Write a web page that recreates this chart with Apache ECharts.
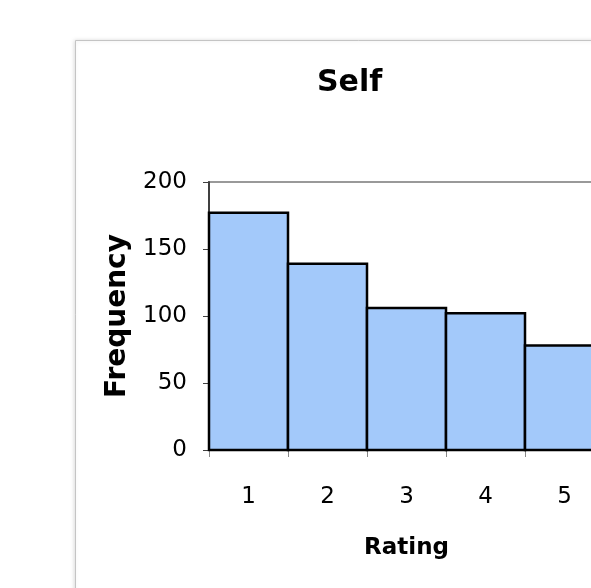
<!DOCTYPE html>
<html>
<head>
<meta charset="utf-8">
<script src="https://cdn.jsdelivr.net/npm/echarts@6/dist/echarts.min.js"></script>
<style>
  html, body { margin: 0; padding: 0; background: #fff; overflow: hidden; }
  /* the chart frame runs past the right edge of the window */
  #chart { width: 640px; height: 588px; }
</style>
</head>
<body>
<div id="chart"></div>
<script>
// Rating histogram: how often each self-rating was given
const categories = ['1', '2', '3', '4', '5'];
const frequency = [177, 139, 106, 102, 78];
const yMin = 0;
const yMax = 200;
const yStep = 50;

const chart = echarts.init(document.getElementById('chart'), null, { renderer: 'canvas' });

const font = 'DejaVu Sans';

// Histogram bars: each fills its whole category band, outlines shared between neighbours
function renderBar(params, api) {
  const idx = api.value(0);
  const val = api.value(1);
  const top = api.coord([idx, val]);
  const base = api.coord([idx, 0]);
  const band = api.size([1, 0])[0];
  return {
    type: 'rect',
    shape: { x: top[0] - band / 2, y: top[1], width: band, height: base[1] - top[1] },
    style: { fill: '#a3c9fa', stroke: '#000000', lineWidth: 2.5 }
  };
}

chart.setOption({
  animation: false,
  backgroundColor: '#ffffff',
  title: {
    text: 'Self',
    left: 317,
    top: 68,
    padding: 0,
    textStyle: { fontFamily: font, fontSize: 30, fontWeight: 'bold', color: '#000' }
  },
  graphic: [
    {
      type: 'rect',
      z: -10,
      shape: { x: 75.5, y: 40.5, width: 620, height: 600 },
      style: {
        fill: '#ffffff',
        stroke: '#c4c4c4',
        lineWidth: 1,
        shadowBlur: 4,
        shadowColor: 'rgba(0,0,0,0.15)',
        shadowOffsetX: -1
      }
    }
  ],
  grid: {
    left: 209,
    top: 182,
    width: 395,
    height: 268,
    show: true,
    borderColor: '#999999',
    borderWidth: 2,
    backgroundColor: 'transparent'
  },
  xAxis: {
    type: 'category',
    data: categories,
    boundaryGap: true,
    name: 'Rating',
    nameLocation: 'middle',
    nameGap: 87,
    nameTextStyle: { fontFamily: font, fontSize: 23, fontWeight: 'bold', color: '#000' },
    axisLine: { show: true, lineStyle: { color: '#000', width: 2 } },
    axisTick: { show: true, alignWithLabel: false, length: 7, lineStyle: { color: '#888', width: 1 } },
    axisLabel: { margin: 36, fontFamily: font, fontSize: 23, color: '#000' },
    splitLine: { show: false }
  },
  yAxis: {
    type: 'value',
    min: yMin,
    max: yMax,
    interval: yStep,
    name: 'Frequency',
    nameLocation: 'middle',
    nameGap: 75,
    nameTextStyle: { fontFamily: font, fontSize: 28, fontWeight: 'bold', color: '#000' },
    axisLine: { show: true, lineStyle: { color: '#404040', width: 2 } },
    axisTick: { show: true, length: 6, lineStyle: { color: '#404040', width: 1 } },
    axisLabel: { margin: 22, fontFamily: font, fontSize: 23, color: '#000' },
    splitLine: { show: false }
  },
  series: [
    {
      type: 'custom',
      renderItem: renderBar,
      encode: { x: 0, y: 1 },
      data: frequency.map((v, i) => [i, v])
    }
  ]
});
</script>
</body>
</html>
